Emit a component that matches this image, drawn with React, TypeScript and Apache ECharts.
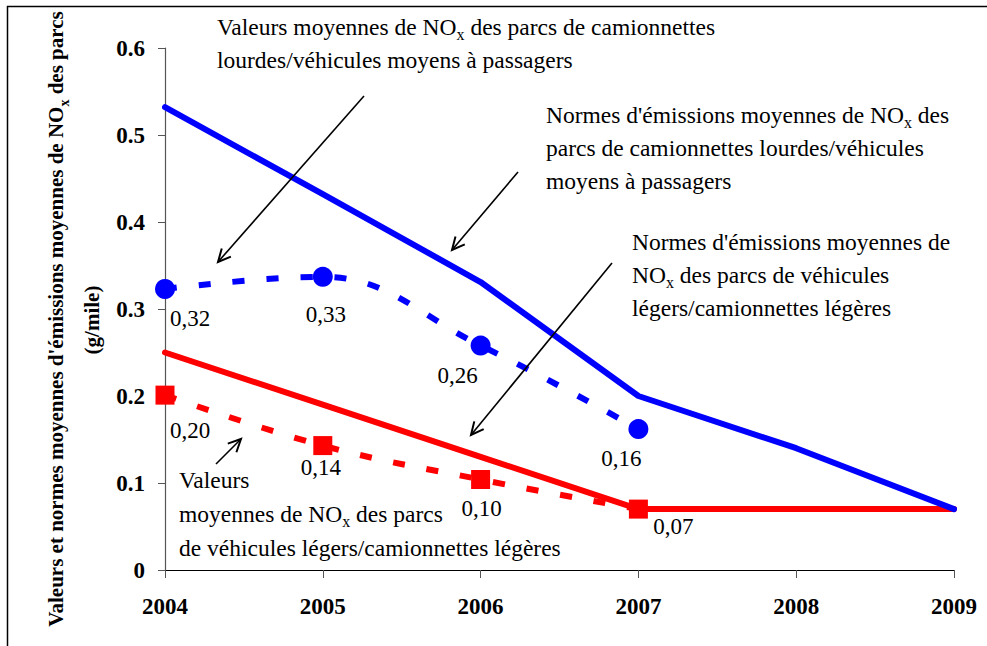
import React, { useEffect, useRef } from 'react';
import * as echarts from 'echarts';

const years = ['2004', '2005', '2006', '2007', '2008', '2009'];
const heavyNorm = [0.532, 0.432, 0.331, 0.2, 0.14, 0.07];
const lightNorm = [0.25, 0.19, 0.13, 0.07, 0.07, 0.07];
const heavyMean = [0.323, 0.337, 0.258, 0.162];
const heavyMeanLabels = ['0,32', '0,33', '0,26', '0,16'];
const lightMean = [0.201, 0.143, 0.104, 0.07];
const lightMeanLabels = ['0,20', '0,14', '0,10', '0,07'];

const yAxisTitle = "Valeurs et normes moyennes d'émissions moyennes de NO{s|x} des parcs";
const yAxisUnit = '(g/mile)';
const noteHeavyMean = ['Valeurs moyennes de NO{s|x} des parcs de camionnettes', 'lourdes/véhicules moyens à passagers'];
const noteHeavyNorm = ["Normes d'émissions moyennes de NO{s|x} des", 'parcs de camionnettes lourdes/véhicules', 'moyens à passagers'];
const noteLightNorm = ["Normes d'émissions moyennes de", 'NO{s|x} des parcs de véhicules', 'légers/camionnettes légères'];
const noteLightMean = ['Valeurs', 'moyennes de NO{s|x} des parcs', 'de véhicules légers/camionnettes légères'];

const FONT = '"Liberation Serif", "Times New Roman", serif';
const BLUE = '#0000FF';
const RED = '#FF0000';

const heavyOffsets = [[25, 30], [3, 38], [-23, 30], [-17, 29]];
const lightOffsets = [[25, 35], [-2, 22], [1, 29], [35, 17]];

function sub(bold: boolean, size: number) {
  return { fontSize: size, fontFamily: FONT, fontWeight: bold ? 'bold' : 'normal', fill: '#000', verticalAlign: 'bottom', lineHeight: 21 };
}

function textLines(x: number, y0: number, lines: string[], step: number) {
  return lines.map((t, i) => ({
    type: 'text',
    x,
    y: y0 + i * step,
    z: 100,
    silent: true,
    style: {
      text: t,
      fontSize: 23.5,
      fontFamily: FONT,
      fill: '#000',
      verticalAlign: 'middle',
      lineHeight: 30,
      rich: { s: sub(false, 16) },
    },
  }));
}

function arrow(x1: number, y1: number, x2: number, y2: number) {
  const ang = Math.atan2(y2 - y1, x2 - x1);
  const L = 14;
  const a = 0.45;
  const p1 = [x2 - L * Math.cos(ang - a), y2 - L * Math.sin(ang - a)];
  const p2 = [x2 - L * Math.cos(ang + a), y2 - L * Math.sin(ang + a)];
  return [
    { type: 'line', z: 100, silent: true, shape: { x1, y1, x2, y2 }, style: { stroke: '#000', lineWidth: 1.6 } },
    { type: 'polyline', z: 100, silent: true, shape: { points: [p1, [x2, y2], p2] }, style: { stroke: '#000', fill: null, lineWidth: 2 } },
  ];
}

export default function App() {
  const ref = useRef<HTMLDivElement>(null);
  useEffect(() => {
    if (!ref.current) return;
    const chart = echarts.init(ref.current, null, { renderer: 'svg' });
    const option: any = {
      animation: false,
      backgroundColor: '#fff',
      grid: { left: 165, right: 33, top: 48, bottom: 76, outerBoundsMode: 'none' },
      xAxis: {
        type: 'category',
        data: years,
        boundaryGap: false,
        axisLine: { lineStyle: { color: '#000', width: 1.2 } },
        axisTick: { show: true, length: 8, lineStyle: { color: '#555' } },
        axisLabel: { fontFamily: FONT, fontWeight: 'bold', fontSize: 23, color: '#000', margin: 25 },
        splitLine: { show: false },
      },
      yAxis: {
        type: 'value',
        min: 0,
        max: 0.6,
        interval: 0.1,
        axisLine: { show: true, lineStyle: { color: '#555', width: 1.2 } },
        axisTick: { show: true, length: 7, lineStyle: { color: '#555' } },
        axisLabel: {
          fontFamily: FONT,
          fontWeight: 'bold',
          fontSize: 23,
          color: '#000',
          margin: 20,
          formatter: (v: number) => (v === 0 ? '0' : v.toFixed(1)),
        },
        splitLine: { show: false },
      },
      series: [
        {
          type: 'line',
          data: lightNorm,
          symbol: 'none',
          lineStyle: { color: RED, width: 6, cap: 'round' },
          z: 2,
          emphasis: { disabled: true },
        },
        {
          type: 'line',
          data: heavyNorm,
          symbol: 'none',
          lineStyle: { color: BLUE, width: 6, cap: 'round' },
          z: 2,
          emphasis: { disabled: true },
        },
        {
          type: 'line',
          data: heavyMean.map((v, i) => ({ value: v, label: { offset: heavyOffsets[i] } })),
          symbol: 'circle',
          symbolSize: 20,
          smooth: 0.4,
          itemStyle: { color: BLUE },
          lineStyle: { color: BLUE, width: 6, type: [12, 22], cap: 'butt' },
          label: {
            show: true,
            position: 'inside',
            color: '#000',
            fontFamily: FONT,
            fontSize: 23,
            formatter: (p: any) => heavyMeanLabels[p.dataIndex],
          },
          z: 3,
          emphasis: { disabled: true },
        },
        {
          type: 'line',
          data: lightMean.map((v, i) => ({ value: v, label: { offset: lightOffsets[i] } })),
          symbol: 'rect',
          symbolSize: 19,
          smooth: 0.4,
          itemStyle: { color: RED },
          lineStyle: { color: RED, width: 6, type: [12, 22], cap: 'butt' },
          label: {
            show: true,
            position: 'inside',
            color: '#000',
            fontFamily: FONT,
            fontSize: 23,
            formatter: (p: any) => lightMeanLabels[p.dataIndex],
          },
          z: 3,
          emphasis: { disabled: true },
        },
      ],
      graphic: [
        {
          type: 'rect',
          silent: true,
          z: 0,
          shape: { x: 7.5, y: 6.5, width: 1000, height: 700 },
          style: { fill: null, stroke: '#000', lineWidth: 1.5 },
        },
        {
          type: 'text',
          x: 56,
          y: 319,
          rotation: Math.PI / 2,
          z: 100,
          silent: true,
          style: {
            text: yAxisTitle,
            fontSize: 21,
            fontWeight: 'bold',
            fontFamily: FONT,
            fill: '#000',
            align: 'center',
            verticalAlign: 'middle',
            lineHeight: 30,
            rich: { s: sub(true, 14) },
          },
        },
        {
          type: 'text',
          x: 92,
          y: 320,
          rotation: Math.PI / 2,
          z: 100,
          silent: true,
          style: {
            text: yAxisUnit,
            fontSize: 21,
            fontWeight: 'bold',
            fontFamily: FONT,
            fill: '#000',
            align: 'center',
            verticalAlign: 'middle',
          },
        },
        ...textLines(217, 27, noteHeavyMean, 33),
        ...textLines(546, 115, noteHeavyNorm, 33),
        ...textLines(632, 242, noteLightNorm, 33),
        ...textLines(179, 480, noteLightMean, 34),
        ...arrow(364, 96, 218, 262),
        ...arrow(518, 172, 452, 250),
        ...arrow(612, 263, 471, 435),
        ...arrow(216, 464, 241, 439),
      ],
    };
    chart.setOption(option);
    return () => chart.dispose();
  }, []);
  return (
    <div
      ref={ref}
      style={{ position: 'fixed', left: 0, top: 0, width: 987, height: 646, background: '#fff' }}
    />
  );
}
